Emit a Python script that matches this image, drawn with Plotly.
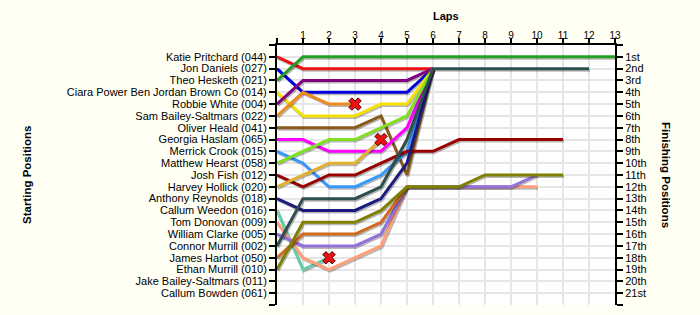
import plotly.graph_objects as go

laps_ticks = list(range(0, 14))
lap_labels = [""] + [str(i) for i in range(1, 14)]

start_names = [
    "Katie Pritchard (044)", "Jon Daniels (027)", "Theo Hesketh (021)",
    "Ciara Power Ben Jordan Brown Co (014)", "Robbie White (004)",
    "Sam Bailey-Saltmars (022)", "Oliver Heald (041)", "Georgia Haslam (065)",
    "Merrick Crook (015)", "Matthew Hearst (058)", "Josh Fish (012)",
    "Harvey Hollick (020)", "Anthony Reynolds (018)", "Callum Weedon (016)",
    "Tom Donovan (009)", "William Clarke (005)", "Connor Murrill (002)",
    "James Harbot (050)", "Ethan Murrill (010)", "Jake Bailey-Saltmars (011)",
    "Callum Bowden (061)",
]
finish_labels = ["1st", "2nd", "3rd"] + [f"{i}th" for i in range(4, 21)] + ["21st"]

# positions per lap (index = lap number, lap 0 = grid position)
katie = [1, 2, 2, 2, 2, 2, 2]
jon = [2, 4, 4, 4, 4, 4, 2]
theo = [3, 1, 1, 1, 1, 1, 1, 1, 1, 1, 1, 1, 1, 1]
ciara = [4, 6, 6, 6, 5, 5, 2]
robbie = [5, 3, 3, 3, 3, 3, 2]
sam = [6, 4, 5, 5]
oliver = [7, 7, 7, 7, 6, 11, 2]
georgia = [8, 8, 9, 9, 9, 7, 2]
merrick = [9, 10, 12, 12, 11, 9, 2]
matthew = [10, 9, 8, 8, 7, 6, 2]
josh = [11, 12, 11, 11, 10, 9, 9, 8, 8, 8, 8, 8]
harvey = [12, 11, 10, 10, 8]
anthony = [13, 14, 14, 14, 13, 10, 2]
callum_w = [14, 19, 18]
tom = [15, 18, 19, 18, 17, 12, 12, 12, 12, 12, 12]
william = [16, 17, 17, 17, 16, 12, 12, 12, 12, 12, 11]
connor = [17, 13, 13, 13, 12, 8, 2, 2, 2, 2, 2, 2, 2]
james = [18, 16, 16, 16, 15, 12]
ethan = [19, 15, 15, 15, 14, 12, 12, 12, 11, 11, 11, 11]

series = [katie, jon, theo, ciara, robbie, sam, oliver, georgia, merrick, matthew,
          josh, harvey, anthony, callum_w, tom, william, connor, james, ethan]
colors = ["#ee1111", "#0000dd", "#22a022", "#f5e000", "#800080", "#f08a1a",
          "#8b5a1a", "#ff00ff", "#3399ff", "#80e020", "#990000", "#e0b030",
          "#1a1a80", "#66cdaa", "#ffa07a", "#9370db", "#2f4f4f", "#d2691e", "#808000"]
retired = {5: True, 11: True, 13: True}  # Sam, Harvey, Callum Weedon end with an X

fig = go.Figure()

# shadow offsets (pixels converted to data units)
dx = 1.0 / 26.0
dy = 1.5 / 11.8

for i, (vals, col) in enumerate(zip(series, colors)):
    xs = list(range(len(vals)))
    fig.add_trace(go.Scatter(x=[x + dx for x in xs], y=[v + dy for v in vals],
                             mode="lines", line=dict(color="rgba(0,0,0,0.28)", width=3),
                             hoverinfo="skip", showlegend=False, cliponaxis=True))
    fig.add_trace(go.Scatter(x=xs, y=vals, mode="lines", line=dict(color=col, width=3),
                             name=start_names[i], showlegend=False))
    if i in retired:
        fig.add_trace(go.Scatter(x=[xs[-1]], y=[vals[-1]], mode="markers",
                                 marker=dict(symbol="x", size=11, color="#ee1111",
                                             line=dict(color="#550000", width=1)),
                                 hoverinfo="skip", showlegend=False))

# invisible trace to activate right axis
fig.add_trace(go.Scatter(x=[0], y=[0], yaxis="y2", mode="markers",
                         marker=dict(opacity=0), hoverinfo="skip", showlegend=False))

yvals = list(range(0, 23))
left_text = [""] + start_names + [""]
right_text = [""] + finish_labels + [""]

font_family = "Liberation Sans, Arial, sans-serif"

fig.update_layout(
    width=700, height=315,
    margin=dict(l=277, r=85, t=45, b=10),
    paper_bgcolor="#fffff4",
    plot_bgcolor="#ffffff",
    font=dict(family=font_family, color="#000000"),
    xaxis=dict(
        side="top", range=[0, 13], tickvals=laps_ticks, ticktext=lap_labels,
        showgrid=True, gridcolor="#e6e6e6", gridwidth=1.5,
        showline=True, linecolor="#000000", linewidth=2,
        ticks="outside", ticklen=5, tickcolor="#000000", tickwidth=1.5,
        tickfont=dict(size=10), zeroline=False, fixedrange=True,
        ticklabelstandoff=-5,
    ),
    yaxis=dict(
        range=[22, 0], tickvals=yvals, ticktext=left_text,
        showgrid=True, gridcolor="#e6e6e6", gridwidth=1.5,
        showline=True, linecolor="#000000", linewidth=2,
        ticks="outside", ticklen=6, tickcolor="#000000", tickwidth=1.5,
        tickfont=dict(size=11), zeroline=False,
    ),
    yaxis2=dict(
        range=[22, 0], tickvals=yvals, ticktext=right_text, overlaying="y",
        side="right", anchor="x", showgrid=False,
        showline=True, linecolor="#000000", linewidth=2,
        ticks="outside", ticklen=6, tickcolor="#000000", tickwidth=1.5,
        tickfont=dict(size=11), zeroline=False,
    ),
    annotations=[
        dict(text="<b>Laps</b>", xref="paper", yref="paper", x=0.5, y=1.11,
             showarrow=False, font=dict(size=11), xanchor="center", yanchor="middle"),
        dict(text="<b>Starting Positions</b>", xref="paper", yref="paper",
             x=(27 - 277) / 338, y=0.5, textangle=-90, showarrow=False,
             font=dict(size=11.5), xanchor="center", yanchor="middle"),
        dict(text="<b>Finishing Positions</b>", xref="paper", yref="paper",
             x=(666 - 277) / 338, y=0.5, textangle=90, showarrow=False,
             font=dict(size=11.5), xanchor="center", yanchor="middle"),
    ],
)

fig.write_html("out.html")
